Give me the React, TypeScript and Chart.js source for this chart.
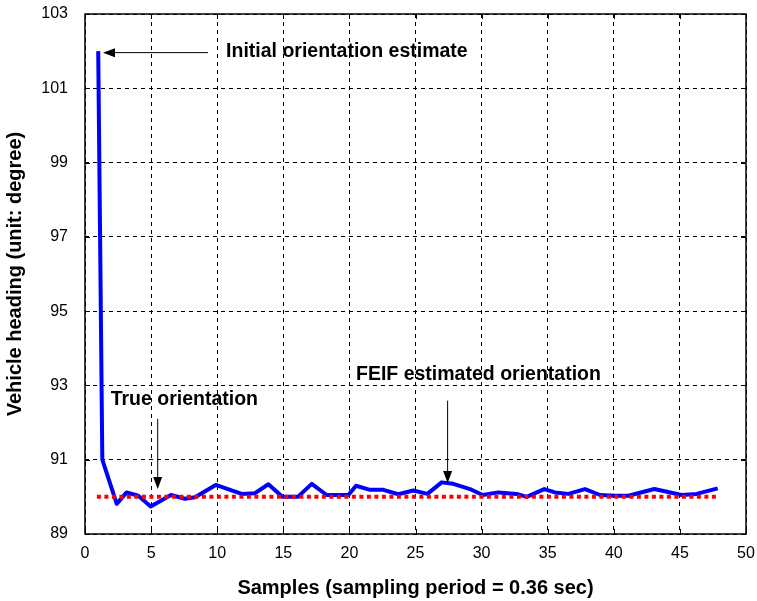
import React, { useEffect, useRef } from "react";
import { Chart, registerables } from "chart.js";

Chart.register(...registerables);

// ---- data ----
const sampleX = [
  1.0, 1.31, 2.4, 3.15, 4.03, 4.97, 6.5, 7.56, 8.32, 9.89, 11.85, 12.86, 13.87, 14.93,
  16.1, 17.15, 18.28, 19.92, 20.5, 21.56, 22.57, 23.7, 24.83, 25.9, 26.98, 27.86, 29.12,
  30.08, 31.26, 32.65, 33.41, 34.74, 35.55, 36.56, 37.82, 38.96, 40.09, 41.1, 43.07,
  45.13, 46.27, 47.86,
];
const headingY = [
  102.0, 91.0, 89.81, 90.12, 90.03, 89.74, 90.05, 89.95, 89.99, 90.32, 90.08, 90.1, 90.34,
  90.0, 90.0, 90.35, 90.05, 90.05, 90.3, 90.19, 90.19, 90.07, 90.17, 90.08, 90.39, 90.35,
  90.21, 90.05, 90.12, 90.08, 90.0, 90.21, 90.12, 90.08, 90.21, 90.05, 90.03, 90.03,
  90.21, 90.05, 90.08, 90.23,
];
const trueX = [0.9, 47.9];
const trueY = [90, 90];

const xMin = 0;
const xMax = 50;
const xStep = 5;
const yMin = 89;
const yMax = 103;
const yStep = 2;

const xTitle = "Samples (sampling period = 0.36 sec)";
const yTitle = "Vehicle heading (unit: degree)";

// annotation texts (anchor in data units)
const noteTexts = ["Initial orientation estimate", "True orientation", "FEIF estimated orientation"];
const noteTextX = [10.67, 1.94, 20.5];
const noteTextY = [101.98, 92.61, 93.29];
// arrows: tail -> tip (data units)
const arrowTailX = [9.3, 5.5, 27.43];
const arrowTailY = [101.96, 92.1, 92.59];
const arrowTipX = [1.36, 5.5, 27.43];
const arrowTipY = [101.96, 90.21, 90.37];

const FAMILY = "'Liberation Sans', Arial, Helvetica, sans-serif";

const zeroPad = (s: any) => {
  s.paddingTop = 0;
  s.paddingBottom = 0;
  s.paddingLeft = 0;
  s.paddingRight = 0;
};

const overlayPlugin = {
  id: "overlay",
  afterDraw(chart: any) {
    const { ctx, chartArea: a, scales } = chart;
    const sx = scales.x;
    const sy = scales.y;
    ctx.save();
    ctx.setLineDash([]);
    // frame
    ctx.strokeStyle = "#000";
    ctx.lineWidth = 1.5;
    ctx.strokeRect(a.left, a.top, a.right - a.left, a.bottom - a.top);
    // inward tick marks
    ctx.lineWidth = 1;
    const tl = 5;
    ctx.beginPath();
    for (let v = xMin; v <= xMax + 1e-9; v += xStep) {
      const px = Math.round(sx.getPixelForValue(v)) + 0.5;
      ctx.moveTo(px, a.bottom);
      ctx.lineTo(px, a.bottom - tl);
      ctx.moveTo(px, a.top);
      ctx.lineTo(px, a.top + tl);
    }
    for (let v = yMin; v <= yMax + 1e-9; v += yStep) {
      const py = Math.round(sy.getPixelForValue(v)) + 0.5;
      ctx.moveTo(a.left, py);
      ctx.lineTo(a.left + tl, py);
      ctx.moveTo(a.right, py);
      ctx.lineTo(a.right - tl, py);
    }
    ctx.stroke();

    // arrows
    for (let i = 0; i < arrowTipX.length; i++) {
      const x1 = sx.getPixelForValue(arrowTailX[i]);
      const y1 = sy.getPixelForValue(arrowTailY[i]);
      const x2 = sx.getPixelForValue(arrowTipX[i]);
      const y2 = sy.getPixelForValue(arrowTipY[i]);
      const ang = Math.atan2(y2 - y1, x2 - x1);
      const hl = 12;
      const hw = 4.5;
      const bx = x2 - hl * Math.cos(ang);
      const by = y2 - hl * Math.sin(ang);
      ctx.strokeStyle = "#000";
      ctx.lineWidth = 1;
      ctx.beginPath();
      ctx.moveTo(x1, y1);
      ctx.lineTo(bx, by);
      ctx.stroke();
      ctx.fillStyle = "#000";
      ctx.beginPath();
      ctx.moveTo(x2, y2);
      ctx.lineTo(bx + hw * Math.sin(ang), by - hw * Math.cos(ang));
      ctx.lineTo(bx - hw * Math.sin(ang), by + hw * Math.cos(ang));
      ctx.closePath();
      ctx.fill();
    }

    // texts
    ctx.fillStyle = "#000";
    ctx.font = `bold 19.5px ${FAMILY}`;
    ctx.textAlign = "left";
    ctx.textBaseline = "middle";
    for (let i = 0; i < noteTexts.length; i++) {
      ctx.fillText(noteTexts[i], sx.getPixelForValue(noteTextX[i]), sy.getPixelForValue(noteTextY[i]));
    }
    ctx.restore();
  },
};

export default function App() {
  const ref = useRef<HTMLCanvasElement | null>(null);

  useEffect(() => {
    document.body.style.margin = "0";
    const canvas = ref.current;
    if (!canvas) return;
    const chart = new Chart(canvas, {
      type: "line",
      data: {
        datasets: [
          {
            label: "True orientation",
            data: trueX.map((x, i) => ({ x, y: trueY[i] })),
            borderColor: "#ff0000",
            borderWidth: 4,
            borderDash: [4, 3.5],
            borderCapStyle: "butt",
            pointRadius: 0,
            tension: 0,
            order: 0,
          },
          {
            label: "FEIF estimated orientation",
            data: sampleX.map((x, i) => ({ x, y: headingY[i] })),
            borderColor: "#0000ff",
            borderWidth: 4,
            borderJoinStyle: "round",
            pointRadius: 0,
            tension: 0,
            order: 1,
          },
        ],
      },
      options: {
        responsive: false,
        animation: false,
        events: [],
        layout: { padding: { left: 0, top: 14, right: 11, bottom: 0 } },
        plugins: {
          legend: { display: false },
          tooltip: { enabled: false },
        },
        scales: {
          x: {
            type: "linear",
            min: xMin,
            max: xMax,
            afterFit: (s: any) => {
              s.height = 67;
              zeroPad(s);
            },
            ticks: {
              stepSize: xStep,
              color: "#000",
              padding: 10,
              maxRotation: 0,
              font: { family: FAMILY, size: 16 },
            },
            grid: {
              color: "#000",
              lineWidth: 1,
              drawTicks: false,
            },
            border: { display: false, dash: [4, 4] },
            title: {
              display: true,
              text: xTitle,
              color: "#000",
              font: { family: FAMILY, size: 20, weight: "bold" },
              padding: { top: 0, bottom: 1 },
            },
          },
          y: {
            type: "linear",
            min: yMin,
            max: yMax,
            afterFit: (s: any) => {
              s.width = 85;
              zeroPad(s);
            },
            ticks: {
              stepSize: yStep,
              color: "#000",
              padding: 17,
              font: { family: FAMILY, size: 16 },
            },
            grid: {
              color: "#000",
              lineWidth: 1,
              drawTicks: false,
            },
            border: { display: false, dash: [4, 4] },
            title: {
              display: true,
              text: yTitle,
              color: "#000",
              font: { family: FAMILY, size: 20, weight: "bold" },
              padding: { top: 3, bottom: 0 },
            },
          },
        },
      },
      plugins: [overlayPlugin],
    });
    return () => chart.destroy();
  }, []);

  return (
    <div style={{ position: "absolute", left: 0, top: 0, width: 757, height: 601, background: "#fff" }}>
      <canvas ref={ref} width={757} height={601} />
    </div>
  );
}
